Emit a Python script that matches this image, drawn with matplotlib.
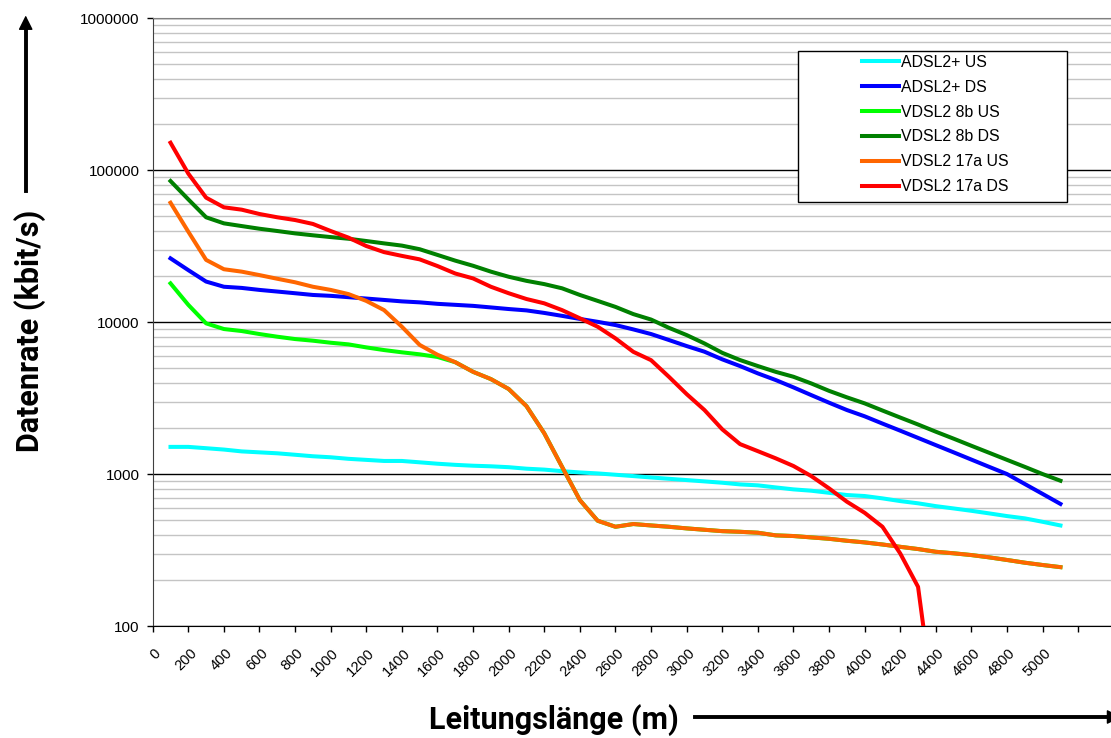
import matplotlib
matplotlib.use("Agg")
import matplotlib.pyplot as plt
import matplotlib.transforms as mtransforms
from matplotlib.patches import Rectangle
from matplotlib.ticker import FixedLocator, FixedFormatter, LogLocator, NullFormatter

# ---- data ----
laenge = list(range(100, 5200, 100))          # Leitungslänge in m
laenge_17a_ds = list(range(100, 4500, 100))   # 17a DS bricht bei ~4300 m ab

adsl_us = [1510, 1510, 1480, 1450, 1410, 1390, 1370, 1340, 1310, 1290,
           1260, 1240, 1220, 1220, 1195, 1170, 1150, 1135, 1125, 1110,
           1085, 1070, 1045, 1025, 1010, 990, 970, 950, 931, 913,
           895, 877, 855, 843, 817, 793, 777, 753, 728, 717,
           692, 664, 642, 615, 594, 573, 551, 529, 511, 485, 459]
adsl_ds = [26300, 22000, 18500, 17100, 16800, 16300, 15900, 15500, 15100, 14900,
           14600, 14300, 14000, 13700, 13500, 13200, 13000, 12800, 12500, 12200,
           11950, 11500, 11000, 10500, 10050, 9570, 8960, 8350, 7630, 6960,
           6390, 5690, 5140, 4600, 4160, 3720, 3310, 2950, 2640, 2400,
           2150, 1930, 1730, 1550, 1390, 1245, 1115, 1000, 860, 740, 636]
vdsl8_us = [18000, 13000, 9820, 9010, 8740, 8350, 8020, 7740, 7550, 7320,
            7140, 6820, 6550, 6330, 6140, 5900, 5450, 4710, 4220, 3630,
            2800, 1855, 1115, 674, 493, 450, 469, 459, 450, 439,
            430, 421, 417, 411, 395, 391, 383, 375, 364, 355,
            344, 332, 321, 308, 301, 293, 283, 272, 261, 252, 244]
vdsl8_ds = [84900, 64300, 49000, 44700, 42900, 41200, 39800, 38400, 37300, 36300,
            35400, 34200, 33000, 31900, 30200, 27700, 25400, 23500, 21500, 19900,
            18700, 17800, 16700, 15100, 13800, 12600, 11300, 10400, 9180, 8220,
            7240, 6280, 5630, 5140, 4710, 4370, 3950, 3530, 3200, 2920,
            2620, 2355, 2120, 1900, 1710, 1535, 1380, 1240, 1115, 1000, 904]
vdsl17_us = [61100, 39400, 25700, 22300, 21500, 20400, 19300, 18300, 17100, 16300,
             15300, 13800, 12000, 9330, 7080, 6100, 5450, 4710, 4220, 3630,
             2800, 1855, 1115, 674, 493, 450, 469, 459, 450, 439,
             430, 421, 417, 411, 395, 391, 383, 375, 364, 355,
             344, 332, 321, 308, 301, 293, 283, 272, 261, 252, 244]
vdsl17_ds = [151700, 95000, 66000, 57000, 55000, 51500, 49000, 47000, 44300, 39800,
             36000, 31700, 28900, 27300, 25900, 23400, 20900, 19400, 17100, 15500,
             14200, 13300, 12000, 10600, 9330, 7820, 6380, 5620, 4370, 3360,
             2640, 1970, 1575, 1415, 1270, 1130, 970, 805, 658, 556,
             450, 300, 181, 24]

x_ticks = list(range(0, 5201, 200))
x_ticklabels = ["0", "200", "400", "600", "800", "1000", "1200", "1400", "1600",
                "1800", "2000", "2200", "2400", "2600", "2800", "3000", "3200",
                "3400", "3600", "3800", "4000", "4200", "4400", "4600", "4800",
                "5000"]
y_ticks = [100, 1000, 10000, 100000, 1000000]
y_ticklabels = ["100", "1000", "10000", "100000", "1000000"]

# ---- figure ----
W, H = 1111, 738
fig = plt.figure(figsize=(W / 100, H / 100), dpi=100)
ax = fig.add_axes([152.7 / W, (H - 626) / H, (W - 152.7) / W, (626 - 18.3) / H])

lw = 2.9
ax.plot(laenge, adsl_us, color="#00ffff", lw=lw, label="ADSL2+ US", zorder=3)
ax.plot(laenge, adsl_ds, color="#0000ff", lw=lw, label="ADSL2+ DS", zorder=3)
ax.plot(laenge, vdsl8_us, color="#00ff00", lw=lw, label="VDSL2 8b US", zorder=3)
ax.plot(laenge, vdsl8_ds, color="#008000", lw=lw, label="VDSL2 8b DS", zorder=3)
ax.plot(laenge, vdsl17_us, color="#ff6600", lw=lw, label="VDSL2 17a US", zorder=3)
ax.plot(laenge_17a_ds, vdsl17_ds, color="#ff0000", lw=lw, label="VDSL2 17a DS", zorder=3)

ax.set_yscale("log")
ax.set_ylim(100, 1000000)
ax.set_xlim(0, 5384)

ax.yaxis.set_major_locator(FixedLocator(y_ticks))
ax.yaxis.set_major_formatter(FixedFormatter(y_ticklabels))
ax.yaxis.set_minor_locator(LogLocator(base=10, subs=range(2, 10), numticks=20))
ax.yaxis.set_minor_formatter(NullFormatter())
ax.set_xticks(x_ticks)
ax.set_xticklabels([])

# x tick labels, rotated like in Excel and shifted right of their tick
lab_tr = mtransforms.blended_transform_factory(ax.transData, ax.transAxes) + \
    mtransforms.ScaledTranslation(0.11, -0.20, fig.dpi_scale_trans)
for xv, txt in zip(x_ticks, x_ticklabels):
    ax.text(xv, 0, txt, transform=lab_tr, rotation=45, ha="right", va="top",
            fontsize=10.5, family="Liberation Sans", clip_on=False)

ax.tick_params(axis="x", which="major", direction="out", length=4, width=1)
ax.tick_params(axis="y", which="major", direction="out", length=4.3, width=1, pad=5,
               labelsize=11)
ax.tick_params(axis="y", which="minor", length=0)
for lab in ax.get_yticklabels():
    lab.set_family("Liberation Sans")

ax.grid(True, which="major", axis="y", color="black", lw=1, zorder=1)
ax.grid(True, which="minor", axis="y", color="#c4c4c4", lw=1, zorder=1)
ax.xaxis.set_minor_locator(FixedLocator([1000, 2000, 3000, 4000, 5000]))
ax.tick_params(axis="x", which="minor", length=0)
ax.grid(True, which="minor", axis="x", color="#dcdcdc", lw=1, zorder=1)
ax.set_axisbelow(True)

ax.spines["right"].set_visible(False)
ax.spines["top"].set_color("#808080")
ax.spines["left"].set_color("#404040")
ax.spines["bottom"].set_color("black")

# legend box
box = Rectangle((798 / W, (H - 202) / H), 269 / W, 151.3 / H, transform=fig.transFigure,
                facecolor="white", edgecolor="black", lw=1, zorder=5)
fig.add_artist(box)
leg = fig.legend(loc="upper left", bbox_to_anchor=(862 / W, (H - 55) / H),
                 frameon=False, borderpad=0, borderaxespad=0, handlelength=2.35,
                 handletextpad=0.12, labelspacing=0.62,
                 prop={"family": "Liberation Sans", "size": 11.4})
leg.set_zorder(6)
for line in leg.get_lines():
    line.set_linewidth(2.9)

# axis titles with arrows
fig.text(554 / W, (H - 720) / H, "Leitungslänge (m)", ha="center", va="center",
         fontsize=22, fontweight="bold", family="Roboto")
fig.text(30 / W, (H - 331) / H, "Datenrate (kbit/s)", ha="center", va="center",
         rotation=90, fontsize=22, fontweight="bold", family="Roboto")

fig.add_artist(plt.Line2D([25.7 / W, 25.7 / W], [(H - 191) / H, (H - 22) / H],
                          color="black", lw=2.8, transform=fig.transFigure))
ax.annotate("", xy=(25.7, H - 12.7), xytext=(25.7, H - 40), xycoords="figure pixels",
            textcoords="figure pixels",
            arrowprops=dict(arrowstyle="-|>", color="black", lw=1, mutation_scale=22))
fig.add_artist(plt.Line2D([695 / W, 1112 / W], [(H - 717) / H, (H - 717) / H],
                          color="black", lw=2.8, transform=fig.transFigure))
ax.annotate("", xy=(1124, H - 717), xytext=(1095, H - 717), xycoords="figure pixels",
            textcoords="figure pixels",
            arrowprops=dict(arrowstyle="-|>", color="black", lw=1, mutation_scale=22))

fig.savefig("out.png", dpi=100)
